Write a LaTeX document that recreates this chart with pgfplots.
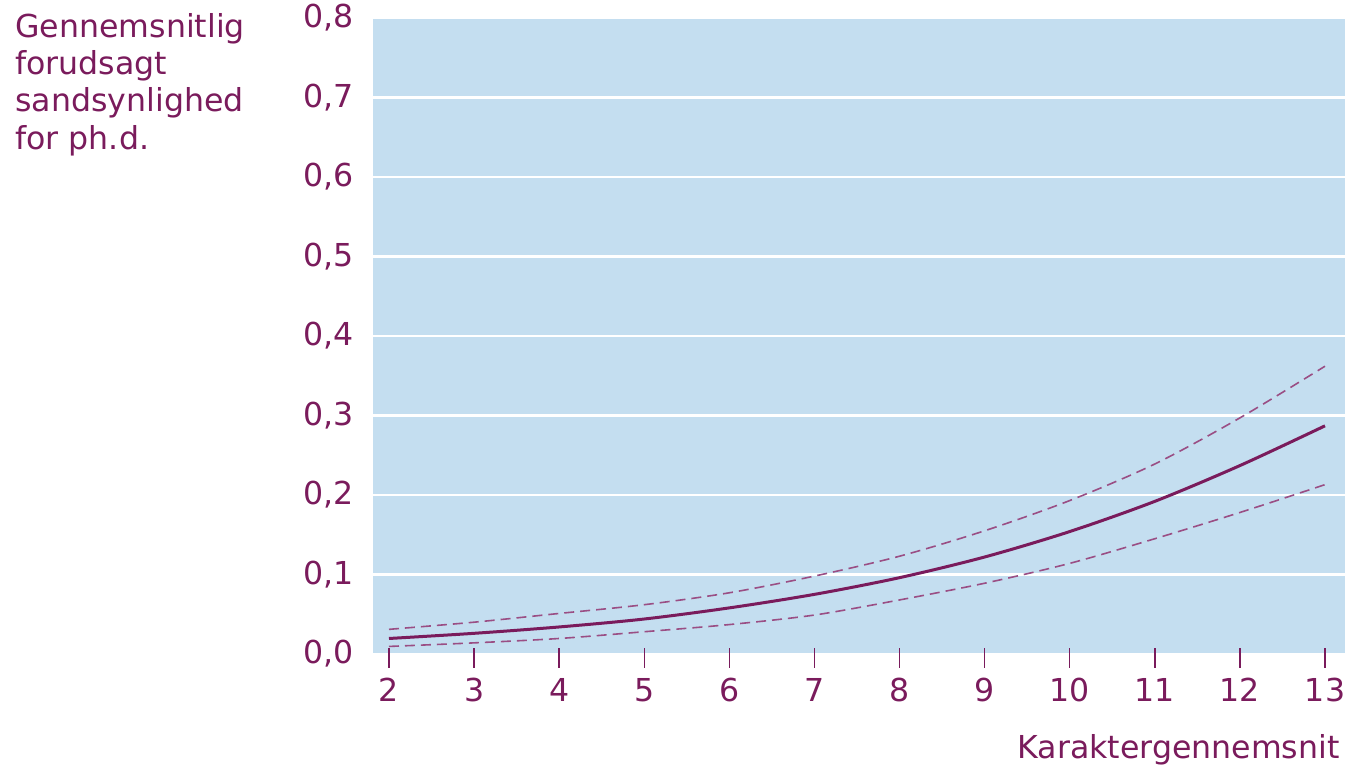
\documentclass[border=0pt]{standalone}
\usepackage{pgfplots}
\pgfplotsset{compat=1.18}
\usepackage{pgfplotstable}
\usepackage{fontspec}
\setmainfont{DejaVu Sans}
\definecolor{bgblue}{HTML}{C4DEF0}
\definecolor{plum}{HTML}{7A1B5C}
\definecolor{plumlight}{HTML}{9A4E84}
\pgfplotstableread{
x mid lo hi
2 0.0195 0.0095 0.031
3 0.026 0.014 0.040
4 0.034 0.0195 0.051
5 0.044 0.028 0.062
6 0.058 0.037 0.077
7 0.075 0.049 0.098
8 0.096 0.068 0.123
9 0.122 0.089 0.155
10 0.154 0.114 0.193
11 0.192 0.145 0.239
12 0.237 0.178 0.297
13 0.287 0.213 0.362
}\datatab
\begin{document}
\begin{tikzpicture}
\begin{axis}[
  name=ax,
  width=486pt, height=318pt, scale only axis,
  xmin=1.812, xmax=13.235, ymin=0, ymax=0.8,
  axis background/.style={fill=bgblue},
  axis line style={draw=none},
  xtick={2,...,13}, ytick={0,0.1,...,0.8},
  xtick pos=lower,
  ymajorgrids, grid style={white, line width=1.3pt},
  ytick style={draw=none},
  tick align=center, major tick length=10pt,
  xtick style={plum, line width=0.7pt, yshift=-2pt},
  /pgf/number format/.cd, use comma, fixed, fixed zerofill, precision=1, assume math mode=true,
  /pgfplots/.cd,
  xticklabel={\pgfmathprintnumber[fixed, precision=0]{\tick}},
  tick label style={font=\fontsize{15.8}{18.6}\selectfont, text=plum},
  yticklabel style={anchor=east, inner sep=0pt, xshift=-4.5pt},
  xticklabel style={anchor=north, inner sep=0pt, yshift=-7pt},
  label style={font=\fontsize{15.8}{18.6}\selectfont, text=plum},
  xlabel={Karaktergennemsnit},
  xlabel style={at={(axis description cs:1,0)}, anchor=base east, inner sep=0pt, yshift=-52.5pt, xshift=-2.5pt},
  ylabel={Gennemsnitlig\\forudsagt\\sandsynlighed\\for ph.d.},
  ylabel style={rotate=-90, at={(axis description cs:0,1)}, anchor=north west, align=left, inner sep=0pt, xshift=-179pt, yshift=2.5pt},
]
\addplot[plumlight, line width=0.8pt, dash pattern=on 5pt off 3pt, smooth] table[x=x, y=hi] {\datatab};
\addplot[plumlight, line width=0.8pt, dash pattern=on 5pt off 3pt, smooth] table[x=x, y=lo] {\datatab};
\addplot[plum, line width=1.5pt, smooth] table[x=x, y=mid] {\datatab};
\end{axis}
\pgfresetboundingbox
\path[use as bounding box] ([shift={(-186.5pt,-56.5pt)}]ax.south west) rectangle ([shift={(1pt,9pt)}]ax.north east);
\end{tikzpicture}
\end{document}
